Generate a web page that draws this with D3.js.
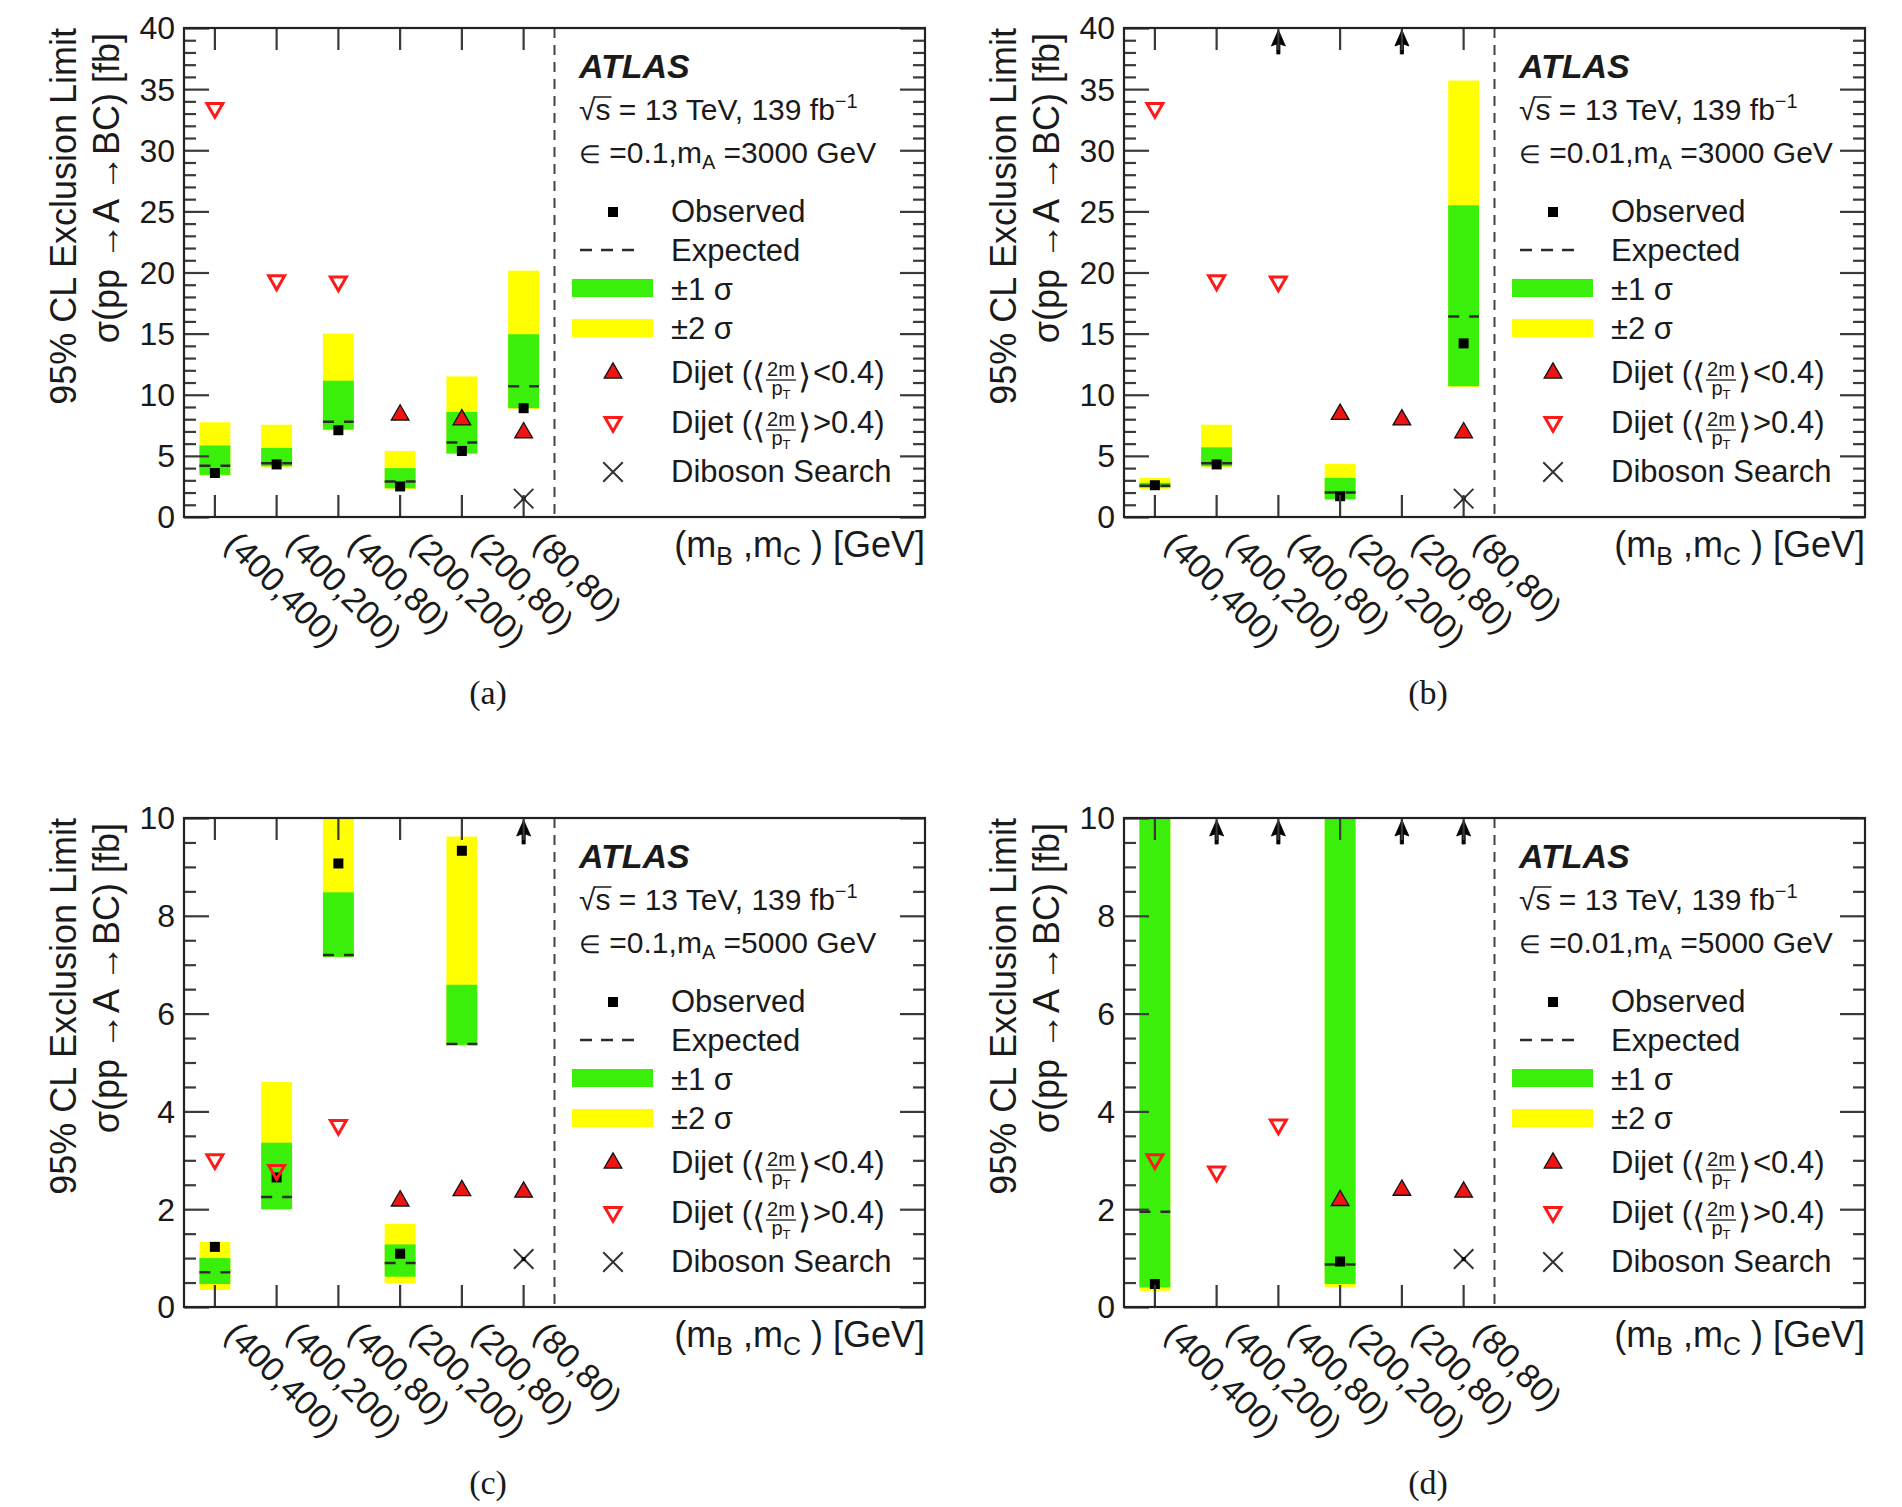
<!DOCTYPE html>
<html>
<head>
<meta charset="utf-8">
<script src="https://cdn.jsdelivr.net/npm/d3@7"></script>
<style>
  body { margin: 0; background: #fff; }
  text { font-family: "Liberation Sans", Arial, Helvetica, sans-serif; fill: #1a1a1a; }
</style>
</head>
<body>
<div id="my_dataviz"></div>
<script>

// mass points (mB, mC) in GeV
var categories = ["(400,400)", "(400,200)", "(400,80)", "(200,200)", "(200,80)", "(80,80)"];

// (a) eps = 0.1, mA = 3000 GeV
var obsA    = [3.6, 4.3, 7.1, 2.5, 5.4, 8.9];
var expA    = [4.2, 4.4, 7.8, 2.9, 6.1, 10.7];
var sig1LoA = [3.45, 4.15, 7.15, 2.35, 5.2, 8.9];
var sig1HiA = [5.85, 5.65, 11.15, 4.0, 8.6, 14.95];
var sig2LoA = [3.4, 4.1, 7.1, 2.3, 5.15, 8.85];
var sig2HiA = [7.75, 7.55, 15.0, 5.4, 11.5, 20.15];
var arrowA  = [false, false, false, false, false, false];
var dijetLowA  = [null, null, null, 8.35, 7.95, 6.9];
var dijetHighA = [33.45, 19.35, 19.25, null, null, null];
var dibosonA   = [null, null, null, null, null, 1.5];

// (b) eps = 0.01, mA = 3000 GeV
var obsB    = [2.6, 4.3, null, 1.7, null, 14.2];
var expB    = [2.55, 4.4, null, 2.0, null, 16.4];
var sig1LoB = [2.4, 4.15, null, 1.45, null, 10.7];
var sig1HiB = [2.8, 5.7, null, 3.2, null, 25.5];
var sig2LoB = [2.3, 4.1, null, 1.4, null, 10.65];
var sig2HiB = [3.2, 7.55, null, 4.35, null, 35.7];
var arrowB  = [false, false, true, false, true, false];
var dijetLowB  = [null, null, null, 8.4, 7.95, 6.9];
var dijetHighB = [33.45, 19.35, 19.25, null, null, null];
var dibosonB   = [null, null, null, null, null, 1.5];

// (c) eps = 0.1, mA = 5000 GeV
var obsC    = [1.23, 2.65, 9.07, 1.09, 9.33, null];
var expC    = [0.71, 2.25, 7.2, 0.9, 5.38, null];
var sig1LoC = [0.47, 2.0, 7.16, 0.62, 5.36, null];
var sig1HiC = [1.0, 3.36, 8.48, 1.28, 6.59, null];
var sig2LoC = [0.35, 1.99, 7.15, 0.49, 5.35, null];
var sig2HiC = [1.33, 4.6, 10.6, 1.7, 9.62, null];
var arrowC  = [false, false, false, false, false, true];
var dijetLowC  = [null, null, null, 2.17, 2.38, 2.35];
var dijetHighC = [3.02, 2.8, 3.72, null, null, null];
var dibosonC   = [null, null, null, null, null, 0.98];

// (d) eps = 0.01, mA = 5000 GeV
var obsD    = [0.47, null, null, 0.93, null, null];
var expD    = [1.95, null, null, 0.87, null, null];
var sig1LoD = [0.4, null, null, 0.47, null, null];
var sig1HiD = [10.6, null, null, 10.6, null, null];
var sig2LoD = [0.33, null, null, 0.41, null, null];
var sig2HiD = [10.8, null, null, 10.8, null, null];
var arrowD  = [false, true, true, false, true, true];
var dijetLowD  = [null, null, null, 2.18, 2.39, 2.35];
var dijetHighD = [3.02, 2.77, 3.73, null, null, null];
var dibosonD   = [null, null, null, null, null, 0.98];

var panels = [
    {id:"a", dx:0,   dy:0,   yMax:40, major:5, minor:1,   eps:"0.1", mA:"3000",
     obs:obsA, exp:expA, s1lo:sig1LoA, s1hi:sig1HiA, s2lo:sig2LoA, s2hi:sig2HiA, arrow:arrowA,
     low:dijetLowA, high:dijetHighA, dib:dibosonA},
    {id:"b", dx:940, dy:0,   yMax:40, major:5, minor:1,   eps:"0.01", mA:"3000",
     obs:obsB, exp:expB, s1lo:sig1LoB, s1hi:sig1HiB, s2lo:sig2LoB, s2hi:sig2HiB, arrow:arrowB,
     low:dijetLowB, high:dijetHighB, dib:dibosonB},
    {id:"c", dx:0,   dy:790, yMax:10, major:2, minor:0.5, eps:"0.1", mA:"5000",
     obs:obsC, exp:expC, s1lo:sig1LoC, s1hi:sig1HiC, s2lo:sig2LoC, s2hi:sig2HiC, arrow:arrowC,
     low:dijetLowC, high:dijetHighC, dib:dibosonC},
    {id:"d", dx:940, dy:790, yMax:10, major:2, minor:0.5, eps:"0.01", mA:"5000",
     obs:obsD, exp:expD, s1lo:sig1LoD, s1hi:sig1HiD, s2lo:sig2LoD, s2hi:sig2HiD, arrow:arrowD,
     low:dijetLowD, high:dijetHighD, dib:dibosonD}
];

// set the dimensions of one pad
var margin = {top: 28, left: 184},
    width = 741,
    height = 489;

var GREEN = "#3af00a", YELLOW = "#ffff00", RED = "#ee1414";

var svg = d3.select("#my_dataviz")
    .append("svg")
    .attr("width", 1902)
    .attr("height", 1507);

var triangleUp = d3.symbol().type(d3.symbolTriangle).size(135);
var triangleOpen = d3.symbol().type(d3.symbolTriangle).size(110);
var timesSym = d3.symbol().type(d3.symbolTimes || d3.symbolX).size(250);

panels.forEach(function(p){ drawPanel(p); });

function drawPanel(p){

    var g = svg.append("g")
        .attr("transform", "translate(" + p.dx + "," + p.dy + ")");

    var bottom = margin.top + height,
        right = margin.left + width;

    var y = d3.scaleLinear()
        .domain([0, p.yMax])
        .range([bottom, margin.top]);

    // the mass points take the left half of the frame, legend the right half
    var x = d3.scaleBand()
        .domain(categories)
        .range([margin.left, margin.left + width / 2])
        .paddingInner(0.5)
        .paddingOuter(0.25);

    var cx = function(c){ return x(c) + x.bandwidth() / 2; };

    g.append("clipPath").attr("id", "clip-" + p.id)
        .append("rect")
        .attr("x", margin.left).attr("y", margin.top)
        .attr("width", width).attr("height", height);

    var rows = categories.map(function(c, i){
        return {cat:c, obs:p.obs[i], exp:p.exp[i], lo1:p.s1lo[i], hi1:p.s1hi[i],
                lo2:p.s2lo[i], hi2:p.s2hi[i], arrow:p.arrow[i],
                low:p.low[i], high:p.high[i], dib:p.dib[i]};
    });

    var bands = rows.filter(function(d){ return d.lo1 != null; });
    var plot = g.append("g").attr("clip-path", "url(#clip-" + p.id + ")");

    // +-2 sigma then +-1 sigma
    plot.selectAll("rect.s2")
        .data(bands)
        .enter()
        .append("rect")
        .attr("x", function(d){ return x(d.cat); })
        .attr("y", function(d){ return y(d.hi2); })
        .attr("width", x.bandwidth())
        .attr("height", function(d){ return y(d.lo2) - y(d.hi2); })
        .attr("fill", YELLOW);

    plot.selectAll("rect.s1")
        .data(bands)
        .enter()
        .append("rect")
        .attr("x", function(d){ return x(d.cat); })
        .attr("y", function(d){ return y(d.hi1); })
        .attr("width", x.bandwidth())
        .attr("height", function(d){ return y(d.lo1) - y(d.hi1); })
        .attr("fill", GREEN);

    // expected
    plot.selectAll("line.exp")
        .data(bands)
        .enter()
        .append("line")
        .attr("x1", function(d){ return x(d.cat); })
        .attr("x2", function(d){ return x(d.cat) + x.bandwidth(); })
        .attr("y1", function(d){ return y(d.exp); })
        .attr("y2", function(d){ return y(d.exp); })
        .attr("stroke", "#2b2b2b")
        .attr("stroke-width", 2.5)
        .attr("stroke-dasharray", "11,10");

    // observed
    plot.selectAll("rect.obs")
        .data(rows.filter(function(d){ return d.obs != null; }))
        .enter()
        .append("rect")
        .attr("x", function(d){ return cx(d.cat) - 5; })
        .attr("y", function(d){ return y(d.obs) - 5; })
        .attr("width", 10)
        .attr("height", 10)
        .attr("fill", "#000");

    // observed limit above the frame: arrow at the top
    plot.selectAll("g.arrow")
        .data(rows.filter(function(d){ return d.arrow; }))
        .enter()
        .append("path")
        .attr("transform", function(d){ return "translate(" + cx(d.cat) + "," + y(p.yMax) + ")"; })
        .attr("d", "M0,2 L7,18 L1.6,16 L1.6,26 L-1.6,26 L-1.6,16 L-7,18 Z")
        .attr("fill", "#000")
        .attr("stroke", "#000")
        .attr("stroke-width", 0.8);

    // dijet limits
    plot.selectAll("path.low")
        .data(rows.filter(function(d){ return d.low != null; }))
        .enter()
        .append("path")
        .attr("transform", function(d){ return "translate(" + cx(d.cat) + "," + y(d.low) + ")"; })
        .attr("d", triangleUp)
        .attr("fill", RED)
        .attr("stroke", "#111")
        .attr("stroke-width", 1.3);

    plot.selectAll("path.high")
        .data(rows.filter(function(d){ return d.high != null; }))
        .enter()
        .append("path")
        .attr("transform", function(d){ return "translate(" + cx(d.cat) + "," + y(d.high) + ") rotate(180)"; })
        .attr("d", triangleOpen)
        .attr("fill", "none")
        .attr("stroke", "#ff1a1a")
        .attr("stroke-width", 3);

    // diboson search
    var dib = plot.selectAll("g.dib")
        .data(rows.filter(function(d){ return d.dib != null; }))
        .enter()
        .append("g")
        .attr("transform", function(d){ return "translate(" + cx(d.cat) + "," + y(d.dib) + ")"; });
    dib.append("path").attr("d", timesSym).attr("stroke", "#333").attr("stroke-width", 2).attr("fill", "none");
    dib.append("rect").attr("x", -2).attr("y", -2).attr("width", 4).attr("height", 4).attr("fill", "#000");

    // separator between the mass points and the legend
    g.append("line")
        .attr("x1", x.range()[1]).attr("x2", x.range()[1])
        .attr("y1", margin.top).attr("y2", bottom)
        .attr("stroke", "#444")
        .attr("stroke-width", 2)
        .attr("stroke-dasharray", "10,7");

    // ticks
    var majors = d3.range(0, p.yMax + 1e-6, p.major);
    var minors = d3.range(0, p.yMax + 1e-6, p.minor).filter(function(v){
        return Math.abs(v / p.major - Math.round(v / p.major)) > 1e-6;
    });

    var yl = g.append("g").attr("transform", "translate(" + margin.left + ",0)")
        .call(d3.axisLeft(y).tickValues(majors).tickSizeInner(-25).tickSizeOuter(0).tickPadding(9));
    yl.selectAll("text").attr("font-size", 32).attr("dy", "0.34em").attr("fill", "#1a1a1a")
        .style("font-family", "'Liberation Sans', Arial, sans-serif");
    g.append("g").attr("transform", "translate(" + margin.left + ",0)")
        .call(d3.axisLeft(y).tickValues(minors).tickSizeInner(-12).tickSizeOuter(0).tickFormat(""));
    g.append("g").attr("transform", "translate(" + right + ",0)")
        .call(d3.axisRight(y).tickValues(majors).tickSizeInner(-25).tickSizeOuter(0).tickFormat(""));
    g.append("g").attr("transform", "translate(" + right + ",0)")
        .call(d3.axisRight(y).tickValues(minors).tickSizeInner(-12).tickSizeOuter(0).tickFormat(""));

    g.append("g").attr("transform", "translate(0," + bottom + ")")
        .call(d3.axisBottom(x).tickSizeInner(-22).tickSizeOuter(0).tickFormat(""));
    g.append("g").attr("transform", "translate(0," + margin.top + ")")
        .call(d3.axisTop(x).tickSizeInner(-22).tickSizeOuter(0).tickFormat(""));

    g.selectAll(".domain").remove();
    g.selectAll(".tick line").attr("stroke", "#3a3a3a").attr("stroke-width", 2.2);

    // frame
    g.append("rect")
        .attr("x", margin.left).attr("y", margin.top)
        .attr("width", width).attr("height", height)
        .attr("fill", "none")
        .attr("stroke", "#222")
        .attr("stroke-width", 2.2);

    // rotated mass point labels
    g.selectAll("text.cat")
        .data(categories)
        .enter()
        .append("text")
        .attr("transform", function(d){ return "translate(" + (cx(d) + 8) + "," + (bottom + 29) + ") rotate(45)"; })
        .attr("font-size", 34)
        .text(function(d){ return d; });

    // x title
    var xt = g.append("text")
        .attr("x", right).attr("y", bottom + 40)
        .attr("text-anchor", "end")
        .attr("font-size", 36);
    xt.append("tspan").text("(m");
    xt.append("tspan").attr("font-size", 25).attr("dy", 8).text("B");
    xt.append("tspan").attr("dy", -8).text(" ,m");
    xt.append("tspan").attr("font-size", 25).attr("dy", 8).text("C");
    xt.append("tspan").attr("dy", -8).text(" ) [GeV]");

    // y title, two lines
    g.append("text")
        .attr("transform", "translate(76," + margin.top + ") rotate(-90)")
        .attr("text-anchor", "end")
        .attr("font-size", 36)
        .text("95% CL Exclusion Limit");
    g.append("text")
        .attr("transform", "translate(119," + (margin.top + 5) + ") rotate(-90)")
        .attr("text-anchor", "end")
        .attr("font-size", 36)
        .text("\u03c3(pp \u2192A \u2192BC) [fb]");

    // ATLAS label
    g.append("text")
        .attr("x", 579).attr("y", 78)
        .attr("font-size", 34)
        .attr("font-weight", "bold")
        .attr("font-style", "italic")
        .text("ATLAS");

    var lumi = g.append("text").attr("x", 579).attr("y", 120).attr("font-size", 30);
    lumi.append("tspan").text("\u221as = 13 TeV, 139 fb");
    lumi.append("tspan").attr("font-size", 20).attr("dy", -12).text("\u22121");
    var n = lumi.node();
    g.append("line")
        .attr("x1", n.getStartPositionOfChar(1).x - 1).attr("x2", n.getEndPositionOfChar(1).x + 1)
        .attr("y1", 97).attr("y2", 97)
        .attr("stroke", "#1a1a1a").attr("stroke-width", 1.5);

    var eps = g.append("text").attr("x", 579).attr("y", 163).attr("font-size", 30);
    eps.append("tspan").attr("font-size", 25).text("\u2208");
    eps.append("tspan").text(" =" + p.eps + ",m");
    eps.append("tspan").attr("font-size", 20).attr("dy", 6).text("A");
    eps.append("tspan").attr("dy", -6).text(" =" + p.mA + " GeV");

    drawLegend(g);

    // pad caption
    g.append("text")
        .attr("x", 488).attr("y", 704)
        .attr("text-anchor", "middle")
        .attr("font-size", 34)
        .style("font-family", "'Liberation Serif', 'Times New Roman', serif")
        .text("(" + p.id + ")");
}

function drawLegend(g){

    var mx = 613, tx = 671, fs = 31;

    g.append("rect").attr("x", mx - 5).attr("y", 207).attr("width", 10).attr("height", 10).attr("fill", "#000");
    g.append("text").attr("x", tx).attr("y", 222).attr("font-size", fs).text("Observed");

    g.append("line").attr("x1", 580).attr("x2", 638).attr("y1", 250).attr("y2", 250)
        .attr("stroke", "#2b2b2b").attr("stroke-width", 2.5).attr("stroke-dasharray", "12,9");
    g.append("text").attr("x", tx).attr("y", 261).attr("font-size", fs).text("Expected");

    g.append("rect").attr("x", 572).attr("y", 279).attr("width", 81).attr("height", 18).attr("fill", GREEN);
    g.append("text").attr("x", tx).attr("y", 300).attr("font-size", fs).text("\u00b11 \u03c3");

    g.append("rect").attr("x", 572).attr("y", 319).attr("width", 81).attr("height", 18).attr("fill", YELLOW);
    g.append("text").attr("x", tx).attr("y", 339).attr("font-size", fs).text("\u00b12 \u03c3");

    g.append("path").attr("transform", "translate(" + mx + ",373)").attr("d", triangleUp)
        .attr("fill", RED).attr("stroke", "#111").attr("stroke-width", 1.3);
    dijetText(g, tx, 383, "<");

    g.append("path").attr("transform", "translate(" + mx + ",422) rotate(180)").attr("d", triangleOpen)
        .attr("fill", "none").attr("stroke", "#ff1a1a").attr("stroke-width", 3);
    dijetText(g, tx, 433, ">");

    g.append("path").attr("transform", "translate(" + mx + ",472)").attr("d", timesSym)
        .attr("stroke", "#333").attr("stroke-width", 2).attr("fill", "none");
    g.append("text").attr("x", tx).attr("y", 482).attr("font-size", fs).text("Diboson Search");
}

// "Dijet (<2m/pT> < 0.4)" with a small stacked fraction
function dijetText(g, x, y, sign){
    var t1 = g.append("text").attr("x", x).attr("y", y).attr("font-size", 31).text("Dijet (");
    var w = t1.node().getComputedTextLength();
    var b1 = g.append("text").attr("x", x + w).attr("y", y + 5).attr("font-size", 34)
        .attr("font-weight", 300).text("\u27e8");
    w += b1.node().getComputedTextLength();
    var fx = x + w + 16;
    g.append("text").attr("x", fx).attr("y", y - 7).attr("font-size", 20).attr("text-anchor", "middle").text("2m");
    var den = g.append("text").attr("x", fx).attr("y", y + 12).attr("font-size", 20).attr("text-anchor", "middle");
    den.append("tspan").text("p");
    den.append("tspan").attr("font-size", 13).attr("dy", 4).text("T");
    g.append("line").attr("x1", fx - 15).attr("x2", fx + 15).attr("y1", y - 3).attr("y2", y - 3)
        .attr("stroke", "#1a1a1a").attr("stroke-width", 1.3);
    var b2 = g.append("text").attr("x", fx + 17).attr("y", y + 5).attr("font-size", 34).text("\u27e9");
    var w2 = b2.node().getComputedTextLength();
    g.append("text").attr("x", fx + 17 + w2 + 2).attr("y", y).attr("font-size", 31).text(sign + "0.4)");
}

</script>
</body>
</html>
